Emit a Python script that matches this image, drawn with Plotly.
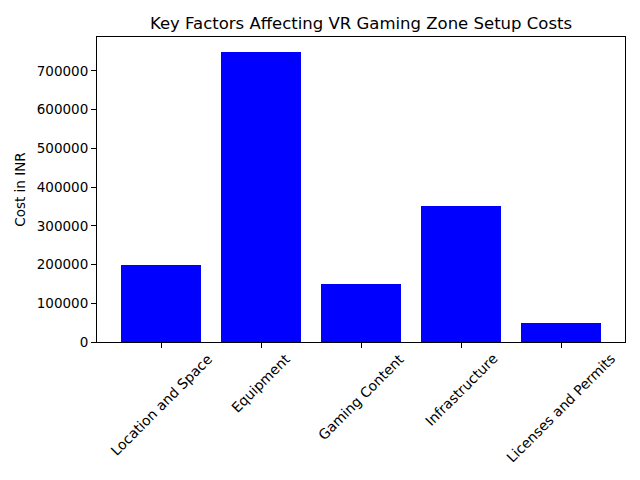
import plotly.graph_objects as go

categories = ["Location and Space", "Equipment", "Gaming Content", "Infrastructure", "Licenses and Permits"]
costs = [200000, 750000, 150000, 350000, 50000]
ytick_vals = [0, 100000, 200000, 300000, 400000, 500000, 600000, 700000]

font = "DejaVu Sans"
xs = list(range(len(categories)))

fig = go.Figure(go.Bar(x=xs, y=costs, width=0.8, marker=dict(color="#0000ff", line=dict(width=0))))

annotations = []
for i, c in enumerate(categories):
    annotations.append(dict(x=i, xref="x", y=0, yref="paper", yanchor="top", xanchor="center",
                            text=c, textangle=-45, showarrow=False, yshift=-6,
                            font=dict(family=font, size=13.9, color="black")))

fig.update_layout(
    width=640, height=480,
    margin=dict(l=97, r=15, t=37, b=138),
    paper_bgcolor="white", plot_bgcolor="white",
    title=dict(text="Key Factors Affecting VR Gaming Zone Setup Costs", x=(97 + 625) / 2 / 640, xanchor="center",
               y=1 - 23 / 480, yanchor="middle", font=dict(family=font, size=16.5, color="black")),
    xaxis=dict(range=[-0.64, 4.64], tickmode="array", tickvals=xs, showticklabels=False,
               ticks="outside", ticklen=5, tickcolor="black", showline=True, linecolor="black",
               mirror=True, showgrid=False, zeroline=False),
    yaxis=dict(range=[0, 787500], tickmode="array", tickvals=ytick_vals, ticktext=[str(v) for v in ytick_vals],
               ticks="outside", ticklen=5, tickcolor="black", showline=True, linecolor="black",
               mirror=True, showgrid=False, zeroline=False,
               tickfont=dict(family=font, size=13.5, color="black"),
               title=dict(text="Cost in INR", font=dict(family=font, size=13.5, color="black"), standoff=8)),
    annotations=annotations,
    showlegend=False,
    bargap=0,
)

fig.write_html("out.html")
